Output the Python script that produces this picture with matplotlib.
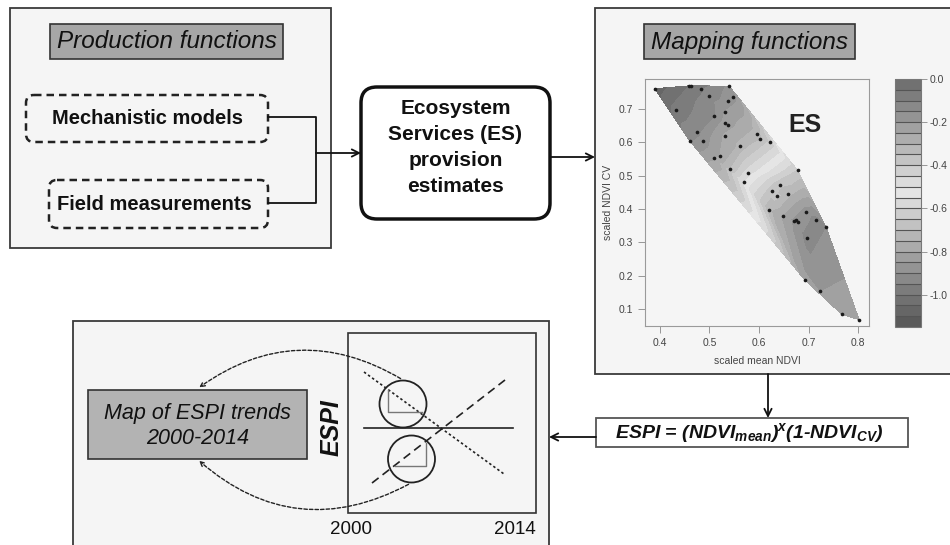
"""Conceptual diagram: production functions -> ES estimates -> mapping functions -> ESPI trends."""

import matplotlib

matplotlib.use("Agg")
import matplotlib.pyplot as plt
import matplotlib.tri as mtri
import numpy as np
from matplotlib.colors import LinearSegmentedColormap
from matplotlib.patches import Circle, FancyArrowPatch, FancyBboxPatch, Rectangle

plt.rcParams["font.family"] = ["Liberation Sans", "DejaVu Sans"]
plt.rcParams["axes.unicode_minus"] = False
plt.rcParams["mathtext.fontset"] = "custom"
plt.rcParams["mathtext.it"] = "Liberation Sans:italic:bold"
plt.rcParams["mathtext.rm"] = "Liberation Sans:italic:bold"
plt.rcParams["mathtext.bf"] = "Liberation Sans:italic:bold"

# --- data ---
ndvi_mean = [0.390, 0.432, 0.458, 0.463, 0.483, 0.499, 0.540, 0.548, 0.538, 0.531,
             0.509, 0.475, 0.460, 0.487, 0.532, 0.537, 0.532, 0.521, 0.509, 0.542,
             0.561, 0.577, 0.569, 0.595, 0.602, 0.623, 0.678, 0.627, 0.637, 0.643,
             0.659, 0.620, 0.649, 0.670, 0.674, 0.678, 0.694, 0.716, 0.735, 0.697,
             0.692, 0.723, 0.767, 0.802]
ndvi_cv = [0.761, 0.696, 0.768, 0.770, 0.760, 0.738, 0.768, 0.736, 0.723, 0.692,
           0.679, 0.632, 0.605, 0.604, 0.659, 0.651, 0.618, 0.560, 0.553, 0.519,
           0.590, 0.509, 0.480, 0.624, 0.609, 0.600, 0.516, 0.453, 0.438, 0.471,
           0.445, 0.398, 0.380, 0.365, 0.368, 0.360, 0.392, 0.368, 0.347, 0.312,
           0.188, 0.155, 0.084, 0.068]
es_value = [-1.08, -0.98, -1.00, -1.00, -0.96, -0.93, -0.89, -0.87, -0.88, -0.85,
            -0.91, -0.92, -0.91, -0.88, -0.83, -0.82, -0.79, -0.80, -0.81, -0.70,
            -0.74, -0.58, -0.55, -0.73, -0.71, -0.64, -0.40, -0.37, -0.37, -0.36,
            -0.32, -0.32, -0.25, -0.19, -0.19, -0.19, -0.18, -0.13, -0.15, -0.13,
            -0.22, -0.20, -0.23, -0.24]
x_ticks = [0.4, 0.5, 0.6, 0.7, 0.8]
y_ticks = [0.1, 0.2, 0.3, 0.4, 0.5, 0.6, 0.7]
cbar_ticks = [0.0, -0.2, -0.4, -0.6, -0.8, -1.0]
es_min, es_max = -1.15, 0.0

es_lines = ["Ecosystem", "Services (ES)", "provision", "estimates"]
espi_years = ["2000", "2014"]

W, H = 950, 545
PANEL = "#f5f5f5"
EDGE = "#3a3a3a"


def rect(x0, y0, x1, y1):
    """pixel box (top-left origin) -> figure fraction rect"""
    return [x0 / W, 1 - y1 / H, (x1 - x0) / W, (y1 - y0) / H]


def arrow(ax, x0, y0, x1, y1):
    ax.annotate("", xy=(x1, y1), xytext=(x0, y0),
                arrowprops=dict(arrowstyle="->", lw=1.3, color="#111",
                                shrinkA=0, shrinkB=0, mutation_scale=13))


fig = plt.figure(figsize=(W / 100, H / 100), dpi=100)
fig.patch.set_facecolor("white")
cv = fig.add_axes([0, 0, 1, 1])
cv.set_xlim(0, W)
cv.set_ylim(H, 0)
cv.axis("off")

# --- production functions panel ---
cv.add_patch(Rectangle((10, 8), 321, 240, fc=PANEL, ec=EDGE, lw=1.3))
cv.add_patch(Rectangle((50, 24), 233, 35, fc="#a6a6a6", ec="#333", lw=1.2))
cv.text(166.5, 42, "Production functions", fontsize=17.5, style="italic",
        ha="center", va="center", color="#111")
for (x0, y0, x1, y1), cx, lab in [((26, 95, 268, 142), 147, "Mechanistic models"),
                                  ((49, 180, 268, 228), 154, "Field measurements")]:
    cv.add_patch(FancyBboxPatch((x0, y0), x1 - x0, y1 - y0,
                                boxstyle="round,pad=0,rounding_size=8",
                                fc="none", ec="#222", lw=1.8, ls=(0, (3, 2))))
    cv.text(cx, (y0 + y1) / 2, lab, fontsize=14.5, fontweight="bold",
            ha="center", va="center", color="#111")
cv.plot([268, 316, 316, 268], [117, 117, 203, 203], color="#111", lw=1.3)
arrow(cv, 316, 153, 361, 153)

# --- ES estimates box ---
cv.add_patch(FancyBboxPatch((361, 87), 189, 132,
                            boxstyle="round,pad=0,rounding_size=16",
                            fc="white", ec="#111", lw=2.5))
for i, line in enumerate(es_lines):
    cv.text(455.5, 109 + i * 25.7, line, fontsize=15, fontweight="bold",
            ha="center", va="center", color="#111")
arrow(cv, 550, 157, 595, 157)

# --- mapping functions panel ---
cv.add_patch(Rectangle((595, 8), 380, 366, fc=PANEL, ec=EDGE, lw=1.3))
cv.add_patch(Rectangle((644, 24), 211, 35, fc="#a6a6a6", ec="#333", lw=1.2))
cv.text(749.5, 42, "Mapping functions", fontsize=17.5, style="italic",
        ha="center", va="center", color="#111")

cmap = LinearSegmentedColormap.from_list(
    "es_gray", [(0.0, "#555555"), (0.55, "#e6e6e6"), (1.0, "#6c6c6c")])
levels = np.linspace(es_min, es_max, 24)

mx = fig.add_axes(rect(645, 79, 869, 326))
mx.set_facecolor(PANEL)
tri = mtri.Triangulation(ndvi_mean, ndvi_cv)
cs = mx.tricontourf(tri, es_value, levels=levels, cmap=cmap, vmin=es_min, vmax=es_max)
mx.scatter(ndvi_mean, ndvi_cv, s=7, color="#1a1a1a", zorder=3, linewidths=0)
mx.text(0.693, 0.652, "ES", fontsize=18, fontweight="bold", ha="center", va="center",
        color="#222")
mx.set_xlim(0.37, 0.822)
mx.set_ylim(0.049, 0.79)
mx.set_xticks(x_ticks)
mx.set_yticks(y_ticks)
mx.xaxis.set_major_formatter(matplotlib.ticker.FormatStrFormatter("%.1f"))
mx.yaxis.set_major_formatter(matplotlib.ticker.FormatStrFormatter("%.1f"))
mx.tick_params(labelsize=7.5, labelcolor="#444", color="#888", length=5, width=0.6)
for s in mx.spines.values():
    s.set_color("#9a9a9a")
    s.set_linewidth(0.8)
mx.set_xlabel("scaled mean NDVI", fontsize=7.5, color="#444", labelpad=6)
mx.set_ylabel("scaled NDVI CV", fontsize=7.5, color="#444", labelpad=4)

cax = fig.add_axes(rect(895, 79, 921, 327))
cb = fig.colorbar(cs, cax=cax, ticks=cbar_ticks, drawedges=True)
cb.outline.set_edgecolor("#777")
cb.outline.set_linewidth(0.8)
cb.dividers.set_color("#555")
cb.dividers.set_linewidth(0.8)
cb.ax.yaxis.set_major_formatter(matplotlib.ticker.FormatStrFormatter("%.1f"))
cax.tick_params(labelsize=7.5, labelcolor="#444", color="#888", length=4, width=0.6, pad=2)

# --- ESPI formula ---
arrow(cv, 768, 374, 768, 418)
cv.add_patch(Rectangle((596, 418), 312, 29, fc="white", ec="#555", lw=1.3))
cv.text(749, 433, r"ESPI = (NDVI$_{mean}$)$^{x}$(1-NDVI$_{CV}$)", fontsize=14,
        fontweight="bold", style="italic", ha="center", va="center", color="#111")
arrow(cv, 596, 437, 549, 437)

# --- ESPI trend panel ---
cv.add_patch(Rectangle((73, 321), 476, 260, fc=PANEL, ec=EDGE, lw=1.3))
cv.add_patch(Rectangle((88, 390), 219, 69, fc="#b3b3b3", ec="#333", lw=1.2))
cv.text(197.5, 413, "Map of ESPI trends", fontsize=15.5, style="italic",
        ha="center", va="center", color="#111")
cv.text(197.5, 439, "2000-2014", fontsize=15.5, style="italic",
        ha="center", va="center", color="#111")

cv.add_patch(Rectangle((348, 333), 188, 180, fc="none", ec="#333", lw=1.2))
cv.text(332, 428, "ESPI", fontsize=18, fontweight="bold", style="italic",
        rotation=90, ha="center", va="center", color="#111")
cv.text(351, 529, espi_years[0], fontsize=13.5, ha="center", va="center", color="#111")
cv.text(515, 529, espi_years[1], fontsize=13.5, ha="center", va="center", color="#111")

cv.plot([364, 513], [428, 428], color="#222", lw=1.2)
cv.plot([364, 504], [372, 474], color="#222", lw=1.2, ls=(0, (1.5, 1.5)))
cv.plot([372, 505], [483, 380], color="#222", lw=1.2, ls=(0, (5, 3)))
cv.add_patch(Circle((403, 404), 23.5, fc="none", ec="#222", lw=1.3))
cv.add_patch(Circle((411.5, 459), 23.5, fc="none", ec="#222", lw=1.3))
cv.plot([388, 388, 422], [390, 412, 412], color="#777", lw=1.0)
cv.plot([395, 426, 426], [466, 466, 443], color="#777", lw=1.0)

for a, b, rad in [((403, 380), (197, 389), 0.33), ((411, 483), (197, 459), -0.35)]:
    cv.add_patch(FancyArrowPatch(a, b, connectionstyle=f"arc3,rad={rad}",
                                 arrowstyle="->", mutation_scale=8, lw=1.0,
                                 ls=(0, (2.5, 1.5)), color="#222"))

fig.savefig("out.png", dpi=100, facecolor="white")
